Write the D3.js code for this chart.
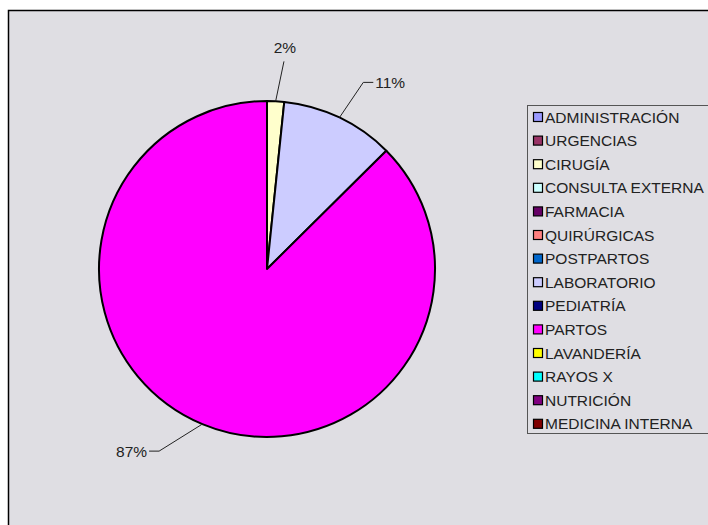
<!DOCTYPE html>
<html>
<head>
<meta charset="utf-8">
<script src="https://cdn.jsdelivr.net/npm/d3@7"></script>
<style>
  body { margin: 0; background: #fff; }
  text { font-family: Arial, "Liberation Sans", sans-serif; font-size: 15.5px; fill: #222; }
</style>
</head>
<body>
<div id="chart"></div>
<script>
// chart data
var services = ["ADMINISTRACIÓN", "URGENCIAS", "CIRUGÍA", "CONSULTA EXTERNA", "FARMACIA",
  "QUIRÚRGICAS", "POSTPARTOS", "LABORATORIO", "PEDIATRÍA", "PARTOS", "LAVANDERÍA",
  "RAYOS X", "NUTRICIÓN", "MEDICINA INTERNA"];
var counts = [0, 0, 3, 0, 0, 0, 0, 20, 0, 160, 0, 0, 0, 0];
var colors = ["#9999ff", "#993366", "#ffffcc", "#ccffff", "#660066", "#ff8080", "#0066cc",
  "#ccccff", "#000080", "#ff00ff", "#ffff00", "#00ffff", "#800080", "#800000"];

var svgWidth = 708;
var svgHeight = 525;

var svg = d3.select("#chart")
  .append("svg")
  .attr("width", svgWidth)
  .attr("height", svgHeight);

// chart area frame (runs off the right and bottom edge)
svg.append("rect")
  .attr("x", 8.5)
  .attr("y", 10.5)
  .attr("width", svgWidth + 10)
  .attr("height", svgHeight + 10)
  .attr("fill", "#dfdee3")
  .attr("stroke", "#000")
  .attr("stroke-width", 1.5);

var radius = 168;
var cx = 267, cy = 269;

var data = services.map(function(s, i) {
  return { name: s, value: counts[i], color: colors[i] };
});
var total = d3.sum(counts);

var pie = d3.pie()
  .value(d => d.value)
  .sort(null);

var arc = d3.arc()
  .innerRadius(0)
  .outerRadius(radius);

var arcs = pie(data).filter(d => d.data.value > 0);

var pieGroup = svg.append("g")
  .attr("transform", `translate(${cx}, ${cy})`);

pieGroup.selectAll("path")
  .data(arcs)
  .enter()
  .append("path")
  .attr("d", arc)
  .attr("fill", d => d.data.color)
  .attr("stroke", "#000")
  .attr("stroke-width", 2)
  .attr("stroke-linejoin", "round");

// percent labels with leader lines
function polar(r, a) {
  return [r * Math.sin(a), -r * Math.cos(a)];
}

arcs.forEach(function(d) {
  var mid = (d.startAngle + d.endAngle) / 2;
  var p0 = polar(radius, mid);
  var label = Math.round(d.data.value / total * 100) + "%";
  var p1, p2, pts, tx, ty, anchor;
  if (Math.abs(Math.sin(mid)) < 0.2) {
    // near the top: text sits above the leader
    p1 = polar(radius * 1.24, mid + 0.03);
    pts = [p0, p1];
    tx = p1[0] + 1; ty = p1[1] - 8; anchor = "middle";
  } else if (Math.sin(mid) > 0) {
    p1 = polar(radius * 1.25, mid + 0.03);
    p2 = [p1[0] + 10, p1[1]];
    pts = [p0, p1, p2];
    tx = p2[0] + 2; ty = p2[1] + 6; anchor = "start";
  } else {
    p1 = polar(radius * 1.26, mid + 0.14);
    p2 = [p1[0] - 10, p1[1]];
    pts = [p0, p1, p2];
    tx = p2[0] - 2; ty = p2[1] + 6; anchor = "end";
  }
  pieGroup.append("polyline")
    .attr("points", pts.map(p => p.join(",")).join(" "))
    .attr("fill", "none")
    .attr("stroke", "#222")
    .attr("stroke-width", 1);
  pieGroup.append("text")
    .attr("x", tx)
    .attr("y", ty)
    .attr("text-anchor", anchor)
    .text(label);
});

// legend
var legend = svg.append("g")
  .attr("transform", "translate(527, 105)");

legend.append("rect")
  .attr("x", 0.5)
  .attr("y", 0.5)
  .attr("width", 200)
  .attr("height", 328)
  .attr("fill", "#dfdee3")
  .attr("stroke", "#555")
  .attr("stroke-width", 1);

var rowH = 23.6;
var items = legend.selectAll("g.item")
  .data(data)
  .enter()
  .append("g")
  .attr("class", "item")
  .attr("transform", (d, i) => `translate(0, ${12 + i * rowH})`);

items.append("rect")
  .attr("x", 6.5)
  .attr("y", -4.5)
  .attr("width", 9)
  .attr("height", 9)
  .attr("fill", d => d.color)
  .attr("stroke", "#000")
  .attr("stroke-width", 1.2);

items.append("text")
  .attr("x", 18)
  .attr("y", 5.5)
  .text(d => d.name);
</script>
</body>
</html>
